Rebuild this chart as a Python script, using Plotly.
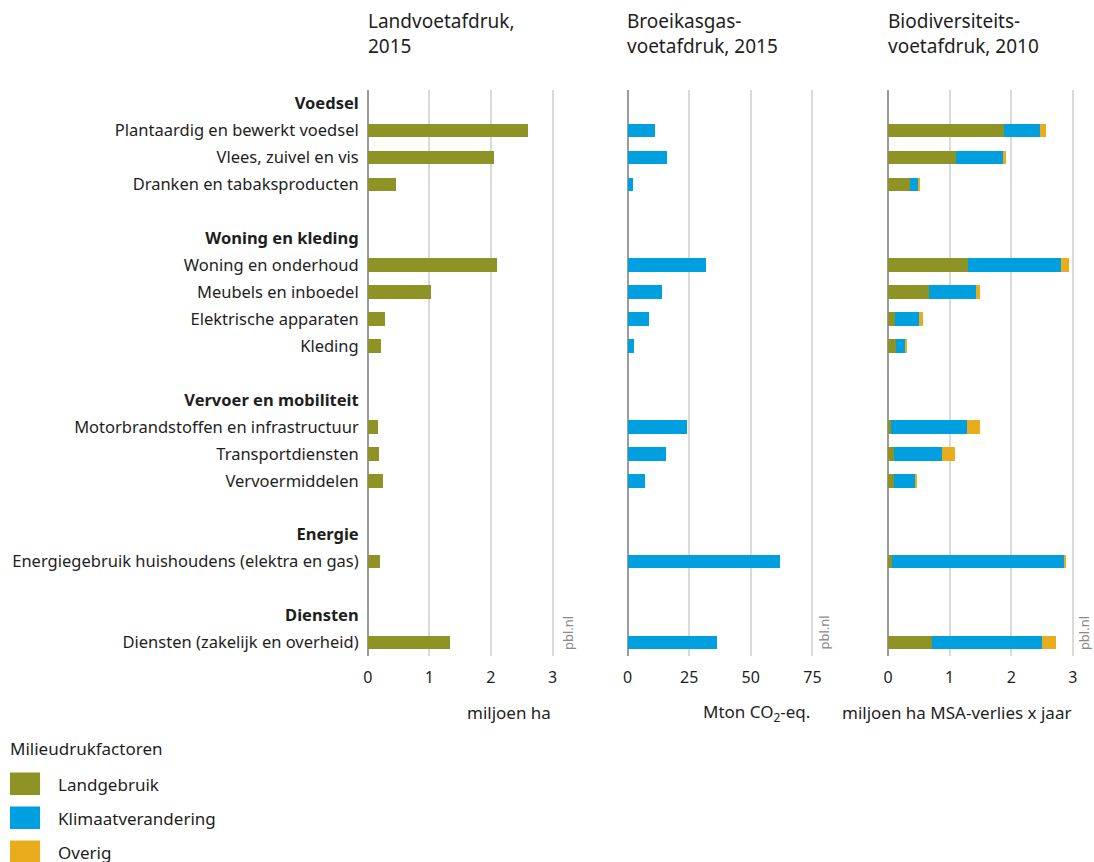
import plotly.graph_objects as go

# ---------------- data ----------------
groups = ["Voedsel", "Woning en kleding", "Vervoer en mobiliteit", "Energie", "Diensten"]
group_sizes = [3, 4, 3, 1, 1]
categories = [
    "Plantaardig en bewerkt voedsel",
    "Vlees, zuivel en vis",
    "Dranken en tabaksproducten",
    "Woning en onderhoud",
    "Meubels en inboedel",
    "Elektrische apparaten",
    "Kleding",
    "Motorbrandstoffen en infrastructuur",
    "Transportdiensten",
    "Vervoermiddelen",
    "Energiegebruik huishoudens (elektra en gas)",
    "Diensten (zakelijk en overheid)",
]
land_2015 = [2.60, 2.05, 0.46, 2.09, 1.02, 0.28, 0.22, 0.17, 0.19, 0.25, 0.20, 1.34]
ghg_2015 = [11.0, 16.0, 2.4, 31.9, 14.1, 8.7, 2.6, 24.3, 15.6, 7.1, 62.0, 36.2]
bio_landgebruik = [1.89, 1.11, 0.35, 1.30, 0.66, 0.11, 0.13, 0.05, 0.10, 0.10, 0.065, 0.72]
bio_klimaat = [0.57, 0.75, 0.14, 1.51, 0.77, 0.40, 0.15, 1.23, 0.78, 0.33, 2.80, 1.78]
bio_overig = [0.10, 0.05, 0.02, 0.13, 0.07, 0.05, 0.02, 0.22, 0.21, 0.04, 0.03, 0.22]

panel_titles = ["Landvoetafdruk,<br>2015", "Broeikasgas-<br>voetafdruk, 2015", "Biodiversiteits-<br>voetafdruk, 2010"]
axis_titles = ["miljoen ha", "Mton CO<sub>2</sub>-eq.", "miljoen ha MSA-verlies x jaar"]
ticks1 = [0, 1, 2, 3]
ticks2 = [0, 25, 50, 75]
ticks3 = [0, 1, 2, 3]
factor_names = ["Landgebruik", "Klimaatverandering", "Overig"]
legend_title = "Milieudrukfactoren"

# ---------------- styling ----------------
GREEN = "#8e9326"
BLUE = "#009fe0"
ORANGE = "#e9ac1d"
TXT = "#1e1e1e"
FONT = "Noto Sans"
W, H = 1094, 862
SX, OX = 0.988, 5.0  # compensation for horizontal rendering offset/scale

# row positions: header row, item rows, blank row between groups
row_pos = []
tick_vals, tick_text = [], []
r = 0
for g, n in zip(groups, group_sizes):
    tick_vals.append(r)
    tick_text.append(f"<b>{g}</b>")
    r += 1
    for k in range(n):
        row_pos.append(r)
        r += 1
    r += 1  # blank row
n_rows = r - 1
idx = 0
for g, n in zip(groups, group_sizes):
    for k in range(n):
        tick_vals.append(row_pos[idx])
        tick_text.append(categories[idx])
        idx += 1

fig = go.Figure()
bw = 0.5
fig.add_trace(go.Bar(x=land_2015, y=row_pos, orientation="h", marker_color=GREEN,
                     width=bw, xaxis="x", yaxis="y", name=factor_names[0], showlegend=False))
fig.add_trace(go.Bar(x=ghg_2015, y=row_pos, orientation="h", marker_color=BLUE,
                     width=bw, xaxis="x2", yaxis="y2", name=factor_names[1], showlegend=False))
for vals, col, nm in [(bio_landgebruik, GREEN, factor_names[0]),
                      (bio_klimaat, BLUE, factor_names[1]),
                      (bio_overig, ORANGE, factor_names[2])]:
    fig.add_trace(go.Bar(x=vals, y=row_pos, orientation="h", marker_color=col,
                         width=bw, xaxis="x3", yaxis="y3", name=nm, showlegend=False))
fig.update_traces(marker_line_width=0, hoverinfo="skip")


def px_x(p):
    return ((p - OX) / SX) / W


def px_y(p):
    return 1 - p / H


y_dom = [px_y(656), px_y(90)]
x_doms = [[px_x(367), px_x(367 + 3.05 * 61.5)],
          [px_x(626.3), px_x(626.3 + 76.2 * 2.46)],
          [px_x(886.3), px_x(886.3 + 3.05 * 61.5)]]
x_ranges = [[0, 3.05], [0, 76.2], [0, 3.05]]
x_ticks = [ticks1, ticks2, ticks3]

yr = [n_rows - 0.5, -0.5]
for i in range(3):
    s = "" if i == 0 else str(i + 1)
    fig.layout["xaxis" + s] = dict(
        domain=x_doms[i], range=x_ranges[i], anchor="y" + s,
        tickvals=x_ticks[i], ticktext=[str(t) for t in x_ticks[i]],
        showgrid=True, gridcolor="#dadada", gridwidth=1.5,
        zeroline=True, zerolinecolor="#9b9b9b", zerolinewidth=1.5,
        showline=False, ticks="", ticklabelstandoff=10,
        tickfont=dict(family=FONT, size=16, color=TXT), fixedrange=True,
    )
    yax = dict(
        domain=y_dom, range=yr, anchor="x" + s,
        showgrid=False, zeroline=False, showline=False, ticks="",
        fixedrange=True,
    )
    if i == 0:
        yax.update(tickvals=tick_vals, ticktext=tick_text, showticklabels=True,
                   ticklabelstandoff=8, tickfont=dict(family=FONT, size=16.5, color=TXT))
    else:
        yax.update(showticklabels=False)
    fig.layout["yaxis" + s] = yax

annotations = []
title_x = [367, 626, 886]
for i in range(3):
    annotations.append(dict(text=panel_titles[i], x=px_x(title_x[i] - 2), y=px_y(6),
                            xref="paper", yref="paper", xanchor="left", yanchor="top",
                            align="left", showarrow=False,
                            font=dict(family=FONT, size=19, color=TXT)))
    frac = 3.0 / 3.05 if i != 1 else 75 / 76.2
    annotations.append(dict(text=axis_titles[i], x=x_doms[i][0] + (x_doms[i][1] - x_doms[i][0]) * frac,
                            y=px_y(712), xref="paper", yref="paper", xanchor="right", yanchor="middle",
                            showarrow=False, font=dict(family=FONT, size=17, color=TXT)))
for xp in [567, 822, 1082]:
    annotations.append(dict(text="pbl.nl", x=px_x(xp), y=px_y(652), xref="paper", yref="paper",
                            xanchor="center", yanchor="bottom", textangle=-90, showarrow=False,
                            font=dict(family=FONT, size=13, color="#8a8a8a")))

# legend (drawn manually)
annotations.append(dict(text=legend_title, x=px_x(8), y=px_y(748), xref="paper", yref="paper",
                        xanchor="left", yanchor="middle", showarrow=False,
                        font=dict(family=FONT, size=17, color=TXT)))
shapes = []
leg_cols = [GREEN, BLUE, ORANGE]
for k, (nm, col) in enumerate(zip(factor_names, leg_cols)):
    top = 772.5 + k * 34
    shapes.append(dict(type="rect", xref="paper", yref="paper",
                       x0=px_x(10), x1=px_x(40), y0=px_y(top + 22.5), y1=px_y(top),
                       fillcolor=col, line=dict(width=0)))
    annotations.append(dict(text=nm, x=px_x(56), y=px_y(top + 11.5), xref="paper", yref="paper",
                            xanchor="left", yanchor="middle", showarrow=False,
                            font=dict(family=FONT, size=17, color=TXT)))

fig.update_layout(
    width=W, height=H, autosize=False, margin=dict(l=0, r=0, t=0, b=0, pad=0),
    paper_bgcolor="white", plot_bgcolor="white",
    barmode="stack", showlegend=False,
    annotations=annotations, shapes=shapes,
    font=dict(family=FONT, color=TXT),
)

fig.write_html("out.html",
               config={"displayModeBar": False, "responsive": False},
               post_script="document.body.style.margin='0';document.body.style.overflow='hidden';")
